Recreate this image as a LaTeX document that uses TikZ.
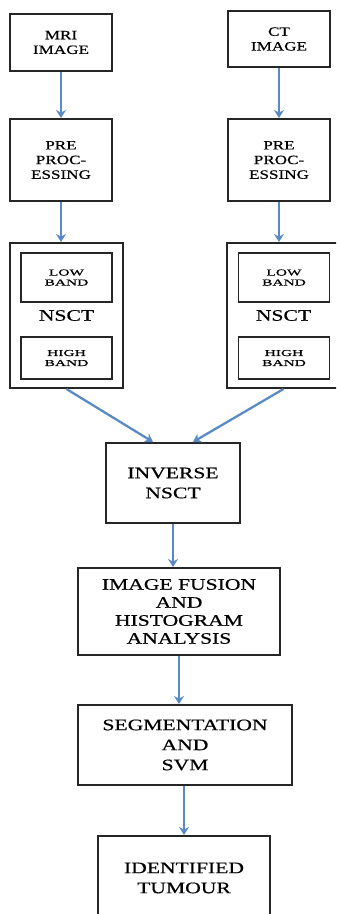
\documentclass[tikz,border=0pt]{standalone}
\usepackage{fontspec}
\setmainfont{Liberation Serif}[FakeStretch=1.35, FakeBold=0.6]
\newfontfamily\bandfont{Liberation Serif}[FakeStretch=1.7, FakeBold=0.8]
\usepackage{tikz}
\usetikzlibrary{arrows.meta,positioning}
\definecolor{flowblue}{RGB}{90,138,196}

\begin{document}
\begin{tikzpicture}[
  x=0.75pt, y=-0.75pt,
  box/.style={draw=black!85, line width=1.5pt, align=center, inner sep=0pt},
  small/.style={box, font=\fontsize{9.5}{11}\selectfont, minimum width=76.5pt},
  large/.style={box, font=\fontsize{12}{15}\selectfont},
  outer/.style={box, font=\fontsize{12}{14}\selectfont,
                minimum width=84.75pt, minimum height=108.75pt},
  band/.style={box, line width=1.3pt, font=\bandfont\fontsize{6.8}{7.5}\selectfont,
               minimum width=68.25pt},
  flow/.style={-{Stealth[length=6pt,width=7.5pt]}, line width=1.7pt, draw=flowblue}
]
\useasboundingbox (0,0) rectangle (336,914);
\clip (0,0) rectangle (336,914);

% two input branches
\node[small, minimum height=42.75pt] (mri) at (61,42.5) {MRI\\IMAGE};
\node[small, minimum height=42pt] (ct) at (279,39) {CT\\IMAGE};
\node[small, minimum height=61.5pt, below=34.5pt of mri] (prel) {PRE\\PROC-\\ESSING};
\node[small, minimum height=61.5pt, below=37.5pt of ct] (prer) {PRE\\PROC-\\ESSING};
\draw[flow] (mri) -- (prel);
\draw[flow] (ct) -- (prer);

% transforms
\node[outer] (nsctl) at (66.5,315.5) {NSCT};
\node[band, minimum height=36.75pt] (lowl) at (66.5,277.5) {LOW\\BAND};
\node[band, minimum height=31.5pt] (highl) at (66.5,358) {HIGH\\BAND};
\node[outer] (nsctr) at (283.5,315.5) {NSCT};
\node[band, minimum height=36.75pt] (lowr) at (284,277.5) {LOW\\BAND};
\node[band, minimum height=31.5pt] (highr) at (284,358) {HIGH\\BAND};
\draw[flow] (prel.south) -- (prel.south |- nsctl.north);
\draw[flow] (prer.south) -- (prer.south |- nsctr.north);

% fusion chain
\node[large, minimum width=100.5pt, minimum height=60pt] (inverse) at (173,483)
  {INVERSE\\NSCT};
\draw[flow] (nsctl.south) -- ([xshift=-15pt]inverse.north);
\draw[flow] (nsctr.south) -- ([xshift=15pt]inverse.north);

\node[large, font=\fontsize{12}{13.5}\selectfont, minimum width=151.5pt,
  minimum height=65.25pt] (fusion) at (179,611.5)
  {IMAGE FUSION\\AND\\HISTOGRAM\\ANALYSIS};
\node[large, minimum width=160.5pt, minimum height=60pt] (segment) at (185,745)
  {SEGMENTATION\\AND\\SVM};
\node[large, minimum width=129pt, minimum height=63pt] (tumour) at (184,878)
  {IDENTIFIED\\TUMOUR};
\draw[flow] (inverse.south) -- (inverse.south |- fusion.north);
\draw[flow] (fusion.south) -- (fusion.south |- segment.north);
\draw[flow] (tumour.north |- segment.south) -- (tumour.north);
\end{tikzpicture}
\end{document}
